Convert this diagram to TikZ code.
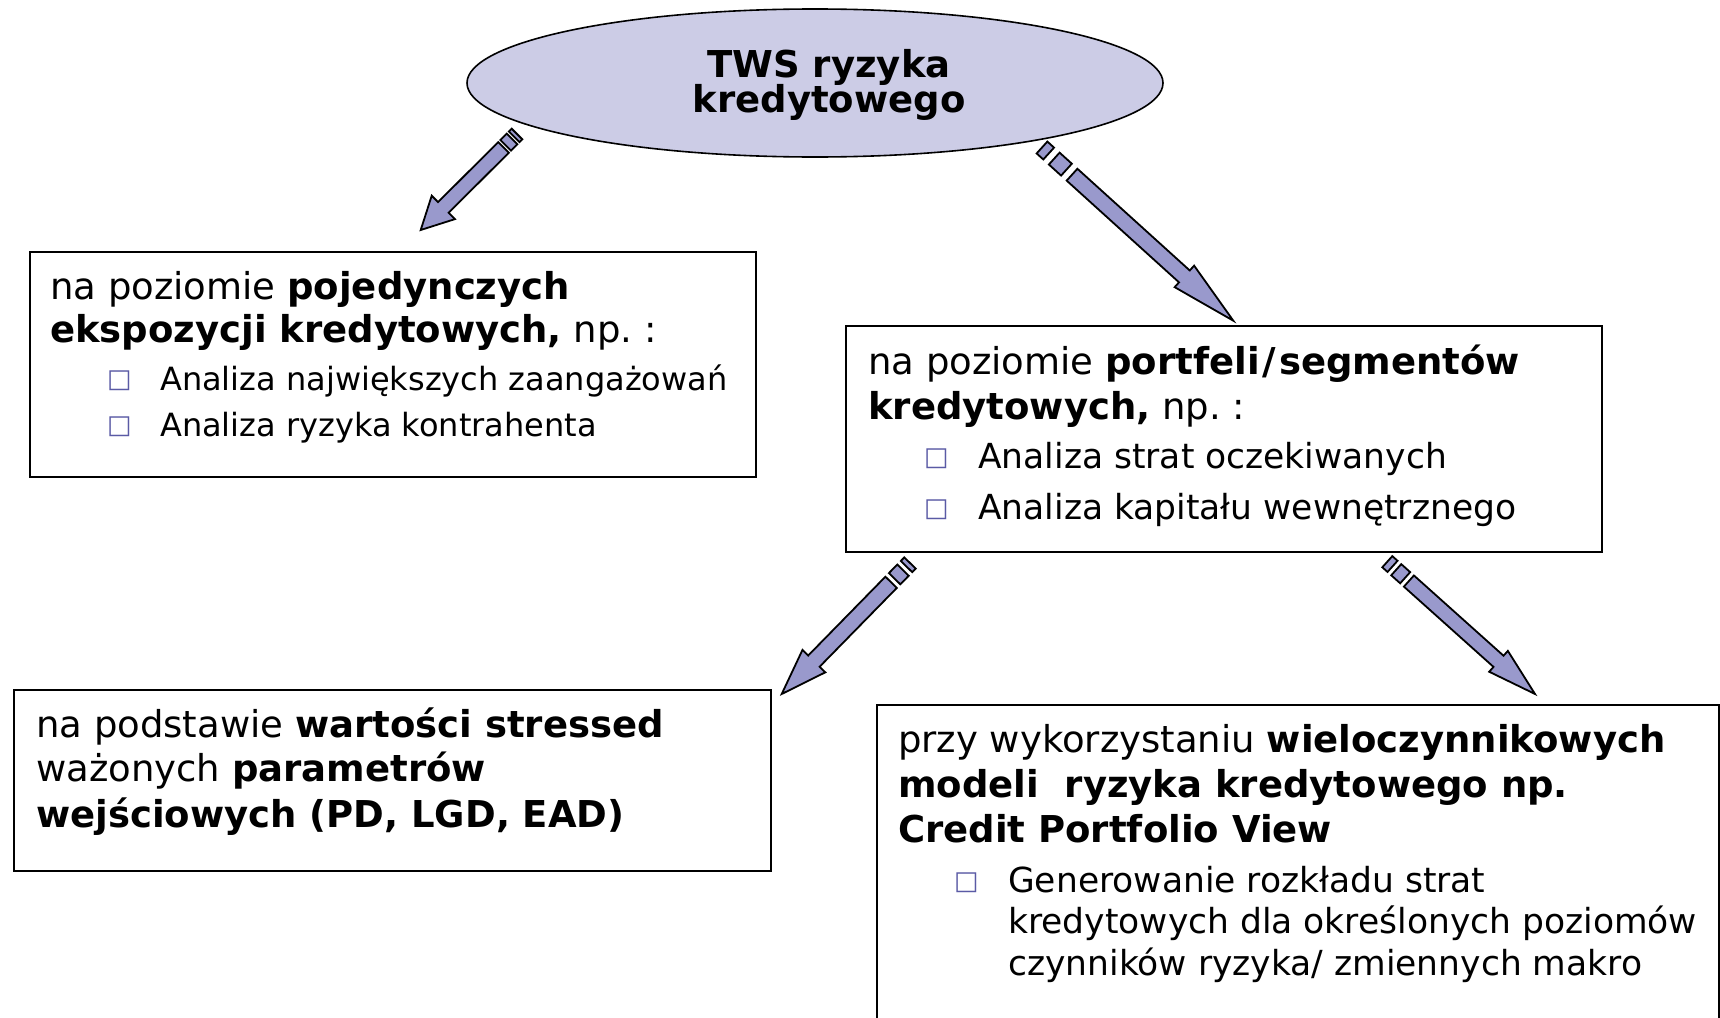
\documentclass[tikz,border=0pt]{standalone}
\usepackage{fontspec}
\setmainfont{DejaVu Sans}
\usetikzlibrary{calc,shapes.geometric}
\frenchspacing

\definecolor{ovalfill}{RGB}{204,204,230}
\definecolor{arrowfill}{RGB}{153,153,204}
\definecolor{bulletcol}{RGB}{90,90,165}

\newcommand\titlesize{\fontsize{37}{34}\selectfont}
\newcommand\mainsize{\fontsize{37}{44}\selectfont}
\newcommand\smallbullet{\fontsize{32}{42}\selectfont}
\newcommand\bigbullet{\fontsize{34.5}{44}\selectfont}
\newcommand\boxmark{\fontsize{26}{26}\selectfont}

% Striped block arrow: #1 tail, #2 tip, #3 half shaft width, #4 half head width,
% #5 head length, #6 first stripe, #7 second stripe, #8 gap between pieces
\newcommand\stripearrow[8]{%
  \pgfmathsetlengthmacro\sta{#6}%
  \pgfmathsetlengthmacro\stb{#6+#8}%
  \pgfmathsetlengthmacro\stc{#6+#8+#7}%
  \pgfmathsetlengthmacro\std{#6+2*#8+#7}%
  \draw[blockarrow]
    ($(#1)!#3!90:(#2)$) -- ($(#1)!\sta!(#2)!#3!90:(#2)$)
      -- ($(#1)!\sta!(#2)!#3!-90:(#2)$) -- ($(#1)!#3!-90:(#2)$) -- cycle
    ($(#1)!\stb!(#2)!#3!90:(#2)$) -- ($(#1)!\stc!(#2)!#3!90:(#2)$)
      -- ($(#1)!\stc!(#2)!#3!-90:(#2)$) -- ($(#1)!\stb!(#2)!#3!-90:(#2)$) -- cycle
    ($(#1)!\std!(#2)!#3!90:(#2)$) -- ($(#2)!#5!(#1)!#3!-90:(#1)$)
      -- ($(#2)!#5!(#1)!#4!-90:(#1)$) -- (#2)
      -- ($(#2)!#5!(#1)!#4!90:(#1)$) -- ($(#2)!#5!(#1)!#3!90:(#1)$)
      -- ($(#1)!\std!(#2)!#3!-90:(#2)$) -- cycle;
}

\tikzset{
  panel/.style={draw=black, line width=1.8pt, fill=white, inner sep=0pt,
    anchor=north west},
  oval/.style={ellipse, draw=black, line width=1.6pt, fill=ovalfill, inner sep=0pt},
  blockarrow/.style={draw=black, line width=1.8pt, fill=arrowfill, line join=miter},
  titleline/.style={anchor=base, inner sep=0pt, font=\titlesize\bfseries},
  textline/.style={anchor=base west, inner sep=0pt, font=\mainsize},
  smallitem/.style={anchor=base west, inner sep=0pt, font=\smallbullet},
  bigitem/.style={anchor=base west, inner sep=0pt, font=\bigbullet},
  itemmark/.style={anchor=base west, inner sep=0pt, text=bulletcol, font=\boxmark,
    yshift=3pt},
}

\begin{document}
\begin{tikzpicture}[x=1pt,y=-1pt]
  \useasboundingbox (0,0) rectangle (1720,1017);
  \clip (0,0) rectangle (1720,1017);
  \fill[white] (0,0) rectangle (1720,1017);

  % root oval
  \node[oval, minimum width=696pt, minimum height=148pt] (root) at (815,83) {};
  \node[titleline] (root1) at (829,77) {TWS ryzyka};
  \node[titleline] (root2) at (829,112) {kredytowego};

  % single exposures
  \node[panel, minimum width=726pt, minimum height=225pt] (single) at (29,251) {};
  \node[textline] (single1) at (50,299) {na poziomie \textbf{pojedynczych}};
  \node[textline] (single2) at (50,342.5) {\textbf{ekspozycji kredytowych,} np. :};
  \node[itemmark] (single3m) at (107,390) {□};
  \node[smallitem] (single3) at (160,390) {Analiza największych zaangażowań};
  \node[itemmark] (single4m) at (107,436) {□};
  \node[smallitem] (single4) at (160,436) {Analiza ryzyka kontrahenta};

  % portfolios / segments
  \node[panel, minimum width=756pt, minimum height=226pt] (portfolio) at (845,325) {};
  \node[textline] (portfolio1) at (868,374.5)
    {na poziomie \textbf{portfeli\kern3pt/\kern3pt segmentów}};
  \node[textline] (portfolio2) at (868,419.5) {\textbf{kredytowych,} np. :};
  \node[itemmark] (portfolio3m) at (924,468.5) {□};
  \node[bigitem] (portfolio3) at (978,468.5) {Analiza strat oczekiwanych};
  \node[itemmark] (portfolio4m) at (924,519) {□};
  \node[bigitem] (portfolio4) at (978,519) {Analiza kapitału wewnętrznego};

  % stressed parameters
  \node[panel, minimum width=757pt, minimum height=181pt] (stressed) at (13,689) {};
  \node[textline] (stressed1) at (36,737.5) {na podstawie \textbf{wartości stressed}};
  \node[textline] (stressed2) at (36,781.5) {ważonych \textbf{parametrów}};
  \node[textline] (stressed3) at (36,827.5) {\textbf{wejściowych (PD, LGD, EAD)}};

  % multi-factor models
  \node[panel, minimum width=842pt, minimum height=340pt] (models) at (876,704) {};
  \node[textline] (models1) at (898,752) {przy wykorzystaniu \textbf{wieloczynnikowych}};
  \node[textline] (models2) at (898,797) {\textbf{modeli\ \ ryzyka kredytowego np.}};
  \node[textline] (models3) at (898,842) {\textbf{Credit Portfolio View}};
  \node[itemmark] (models4m) at (954,892) {□};
  \node[bigitem] (models4) at (1008,892) {Generowanie rozkładu strat};
  \node[bigitem] (models5) at (1008,933.5) {kredytowych dla określonych poziomów};
  \node[bigitem] (models6) at (1008,975) {czynników ryzyka/ zmiennych makro};

  % arrow ends
  \coordinate (rootL) at (517,134);
  \coordinate (singleIn) at (420.7,230);
  \coordinate (rootR) at (1042,147.5);
  \coordinate (portfolioIn) at (1233.3,320.7);
  \coordinate (portfolioL) at (910,563);
  \coordinate (stressedIn) at (781.7,694);
  \coordinate (portfolioR) at (1387.3,561.7);
  \coordinate (modelsIn) at (1535,694);

  \stripearrow{rootL}{singleIn}{7.5pt}{16.5pt}{32pt}{4pt}{9pt}{3pt}
  \stripearrow{rootR}{portfolioIn}{8pt}{14.5pt}{66pt}{9pt}{16.5pt}{7.5pt}
  \stripearrow{portfolioL}{stressedIn}{8pt}{16pt}{46pt}{5pt}{12pt}{5pt}
  \stripearrow{portfolioR}{modelsIn}{7.5pt}{14pt}{49pt}{7pt}{12pt}{5pt}
\end{tikzpicture}
\end{document}
